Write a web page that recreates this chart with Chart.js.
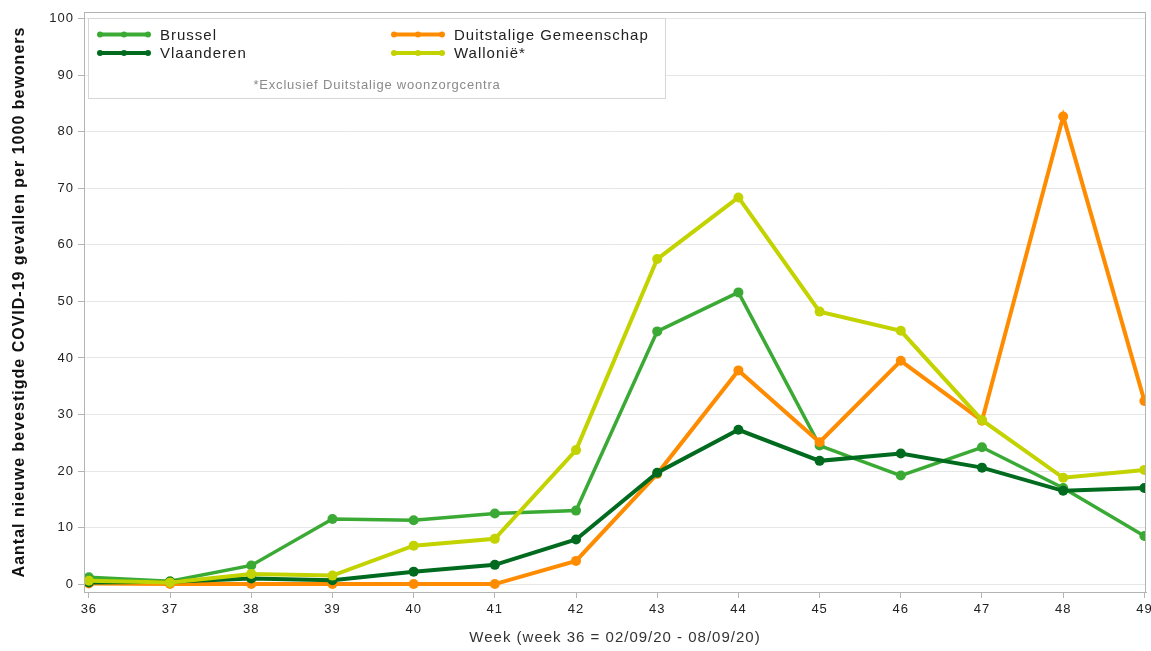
<!DOCTYPE html>
<html><head><meta charset="utf-8">
<script src="https://cdn.jsdelivr.net/npm/chart.js@4/dist/chart.umd.min.js"></script>
<style>html,body{margin:0;padding:0;background:#fff;}#wrap{width:1151px;height:651px;}</style>
</head><body><div id="wrap"><canvas id="c" width="1151" height="651"></canvas></div>
<script>
const weeks = [36,37,38,39,40,41,42,43,44,45,46,47,48,49];
const brussel = [1.2,0.5,3.3,11.5,11.3,12.5,13.0,44.7,51.6,24.5,19.2,24.2,17.0,8.5];
const vlaanderen = [0.3,0.4,1.0,0.7,2.2,3.4,7.9,19.7,27.3,21.8,23.1,20.6,16.5,17.0];
const duitstalige = [0.1,0.0,0.0,0.0,0.0,0.0,4.1,19.5,37.8,25.1,39.5,28.9,82.7,32.4];
const wallonie = [0.6,0.3,1.8,1.5,6.8,8.0,23.7,57.5,68.4,48.2,44.8,29.0,18.8,20.2];
const yTicks = [0,10,20,30,40,50,60,70,80,90,100];
const seriesNames = ['Brussel','Duitstalige Gemeenschap','Vlaanderen','Wallonië*'];
const footnote = '*Exclusief Duitstalige woonzorgcentra';
const colors = ['#3aaa35','#ff8c00','#006b1f','#c3d300'];

function pts(arr){ return weeks.map((w,i)=>({x:w,y:arr[i]})); }
const dataArr = [brussel, duitstalige, vlaanderen, wallonie];

const FONT = '"Liberation Sans", Arial, sans-serif';

const framePlugin = {
  id:'frame',
  beforeDraw(chart){ chart.ctx.letterSpacing = '1px'; },
  afterDraw(chart){
    const {ctx, chartArea:a} = chart;
    ctx.save();
    ctx.strokeStyle = '#b4b4b4';
    ctx.lineWidth = 1;
    ctx.strokeRect(a.left+0.5, a.top+0.5, a.right-a.left-1, a.bottom-a.top);
    // legend box
    const bx = 88.5, by = 18.5, bw = 577, bh = 80;
    ctx.fillStyle = '#fff';
    ctx.fillRect(bx, by, bw, bh);
    ctx.strokeStyle = '#d6d6d6';
    ctx.strokeRect(bx, by, bw, bh);
    const pos = [[98,34.5],[392,34.5],[98,53],[392,53]];
    ctx.letterSpacing = '1px';
    ctx.font = '15px ' + FONT;
    ctx.textBaseline = 'middle';
    ctx.textAlign = 'left';
    chart.data.datasets.forEach((ds,i)=>{
      const [x,y] = pos[i];
      ctx.strokeStyle = ds.borderColor; ctx.lineWidth = 4;
      ctx.beginPath(); ctx.moveTo(x,y); ctx.lineTo(x+52,y); ctx.stroke();
      ctx.fillStyle = ds.borderColor;
      [x+2, x+26, x+50].forEach(px=>{ ctx.beginPath(); ctx.arc(px,y,3,0,Math.PI*2); ctx.fill(); });
      ctx.fillStyle = '#222';
      ctx.fillText(ds.label, x+62, y+1);
    });
    ctx.font = '13px ' + FONT;
    ctx.letterSpacing = '0.8px';
    ctx.fillStyle = '#8a8a8a';
    ctx.textAlign = 'center';
    ctx.fillText(footnote, 377, 85);
    ctx.restore();
  }
};

new Chart(document.getElementById('c'), {
  type:'line',
  data:{
    datasets: seriesNames.map((n,i)=>({
      label:n, data:pts(dataArr[i]),
      borderColor:colors[i], backgroundColor:colors[i],
      borderWidth:i===0?3.5:4, pointRadius:5, pointHoverRadius:5,
      pointBorderWidth:0, tension:0, fill:false,
      order: [3,2,1,0][i]
    }))
  },
  options:{
    responsive:false, animation:false,
    layout:{padding:{top:12,right:0,left:0,bottom:0}},
    plugins:{legend:{display:false}, tooltip:{enabled:false}},
    scales:{
      x:{
        type:'linear', min:35.94, max:49.02,
        afterBuildTicks(s){ s.ticks = weeks.map(v=>({value:v})); },
        afterFit(s){ s.height = 59; s.paddingRight = 0; s.paddingLeft = 0; },
        ticks:{font:{family:FONT,size:13}, color:'#222', padding:4, maxRotation:0, autoSkip:false},
        grid:{drawOnChartArea:false, color:'#b4b4b4', tickLength:6, drawTicks:true},
        border:{color:'#b4b4b4'},
        title:{display:true, text:'Week (week 36 = 02/09/20 - 08/09/20)', font:{family:FONT,size:15}, color:'#333', padding:{top:0,bottom:4}}
      },
      y:{
        type:'linear', min:-1.4, max:101.2,
        afterBuildTicks(s){ s.ticks = yTicks.map(v=>({value:v})); },
        afterFit(s){ s.width = 84; s.paddingTop = 0; s.paddingBottom = 0; },
        ticks:{font:{family:FONT,size:13}, color:'#222', padding:4},
        grid:{color:'#e6e6e6', lineWidth:1, tickLength:6, tickColor:'#b4b4b4', drawTicks:true},
        border:{color:'#b4b4b4'},
        title:{display:true, text:'Aantal nieuwe bevestigde COVID-19 gevallen per 1000 bewoners', font:{family:FONT,size:16,weight:'bold'}, color:'#111', padding:{top:10,bottom:0}}
      }
    }
  },
  plugins:[framePlugin]
});
</script></body></html>
